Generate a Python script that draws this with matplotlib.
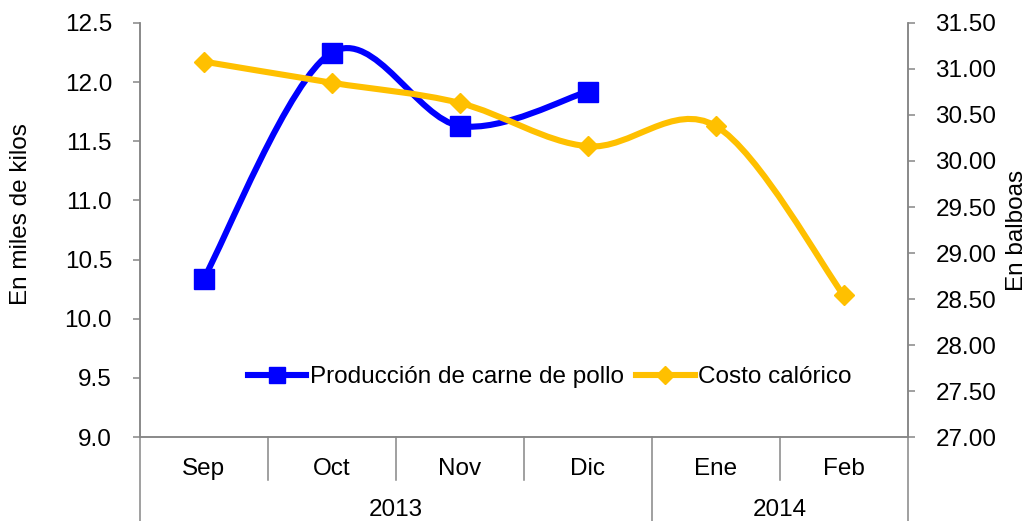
import numpy as np
import matplotlib
matplotlib.use("Agg")
import matplotlib.pyplot as plt
from matplotlib.path import Path
from matplotlib.patches import PathPatch
from matplotlib.lines import Line2D
from matplotlib.transforms import blended_transform_factory

plt.rcParams["font.family"] = ["Liberation Sans", "DejaVu Sans"]

months = ["Sep", "Oct", "Nov", "Dic", "Ene", "Feb"]
years = ["2013", "2014"]
year_spans = [(0, 3), (4, 5)]  # first and last month index per year

produccion = [10.34, 12.25, 11.63, 11.92]      # miles de kilos (Sep-Dic)
costo = [31.08, 30.85, 30.63, 30.16, 30.38, 28.54]  # balboas

BLUE = "#0000FF"
GOLD = "#FFC000"
GRAY = "#868686"
FS = 17.5


def smooth_path(xs, ys):
    # Excel-style smoothed line: cubic Bezier through each point
    pts = np.column_stack([xs, ys]).astype(float)
    n = len(pts)
    verts = [pts[0]]
    codes = [Path.MOVETO]
    for i in range(n - 1):
        p0 = pts[i - 1] if i > 0 else pts[i]
        p1 = pts[i]
        p2 = pts[i + 1]
        p3 = pts[i + 2] if i + 2 < n else pts[i + 1]
        verts += [p1 + (p2 - p0) / 6, p2 - (p3 - p1) / 6, p2]
        codes += [Path.CURVE4] * 3
    return Path(verts, codes)


fig = plt.figure(figsize=(10.28, 5.21), dpi=100)
ax = fig.add_axes([0.136, 0.161, 0.747, 0.795])
ax2 = ax.twinx()

x_prod = np.arange(len(produccion))
x_cost = np.arange(len(costo))

ax.add_patch(PathPatch(smooth_path(x_prod, produccion), fill=False,
                       edgecolor=BLUE, lw=4.4, capstyle="round", zorder=2))
ax.plot(x_prod, produccion, ls="none", marker="s", ms=14, color=BLUE, zorder=3)

ax2.add_patch(PathPatch(smooth_path(x_cost, costo), fill=False,
                        edgecolor=GOLD, lw=4.4, capstyle="round", zorder=2))
ax2.plot(x_cost, costo, ls="none", marker="D", ms=10.5, color=GOLD, zorder=3)

ax.set_xlim(-0.5, len(months) - 0.5)
ax.set_ylim(9.0, 12.5)
ax.set_yticks(np.arange(9.0, 12.51, 0.5))
ax.set_yticklabels([f"{v:.1f}" for v in np.arange(9.0, 12.51, 0.5)])
ax2.set_ylim(27.0, 31.5)
ax2.set_yticks(np.arange(27.0, 31.51, 0.5))
ax2.set_yticklabels([f"{v:.2f}" for v in np.arange(27.0, 31.51, 0.5)])

ax.set_xticks(range(len(months)))
ax.set_xticklabels(months)
ax.tick_params(axis="x", length=0, pad=15, labelsize=FS)
ax.tick_params(axis="y", length=5, width=1.1, color=GRAY, pad=15, labelsize=FS)
ax2.tick_params(axis="y", length=5, width=1.1, color=GRAY, pad=15, labelsize=FS)

for a in (ax, ax2):
    a.spines["top"].set_visible(False)
    for s in ("left", "right", "bottom"):
        a.spines[s].set_color(GRAY)
        a.spines[s].set_linewidth(1.1)

# axis titles placed directly in figure coordinates
fig.text(0.0209, 0.589, "En miles de kilos", rotation=90, fontsize=FS,
         ha="center", va="center")
fig.text(0.989, 0.557, "En balboas", rotation=90, fontsize=FS,
         ha="center", va="center")

# two-level category axis: separators and year labels
trans = blended_transform_factory(ax.transData, ax.transAxes)
for i in range(len(months) + 1):
    xpos = i - 0.5
    long_line = xpos in (-0.5, len(months) - 0.5) or any(
        xpos == last + 0.5 for _, last in year_spans[:-1])
    ybot = -0.21 if long_line else -0.104
    ax.plot([xpos, xpos], [0, ybot], transform=trans, color=GRAY,
            lw=1.1, clip_on=False)
for label, (first, last) in zip(years, year_spans):
    ax.text((first + last) / 2, -0.176, label, transform=trans,
            ha="center", va="center", fontsize=FS)

handles = [
    Line2D([], [], color=BLUE, lw=4.4, marker="s", ms=11),
    Line2D([], [], color=GOLD, lw=4.4, marker="D", ms=9.5),
]
ax2.legend(handles, ["Producción de carne de pollo", "Costo calórico"],
           loc="center", bbox_to_anchor=(0.534, 0.145), ncol=2,
           frameon=False, fontsize=FS, handlelength=2.4,
           handletextpad=0.15, columnspacing=0.5)

fig.savefig("out.png", dpi=100)
